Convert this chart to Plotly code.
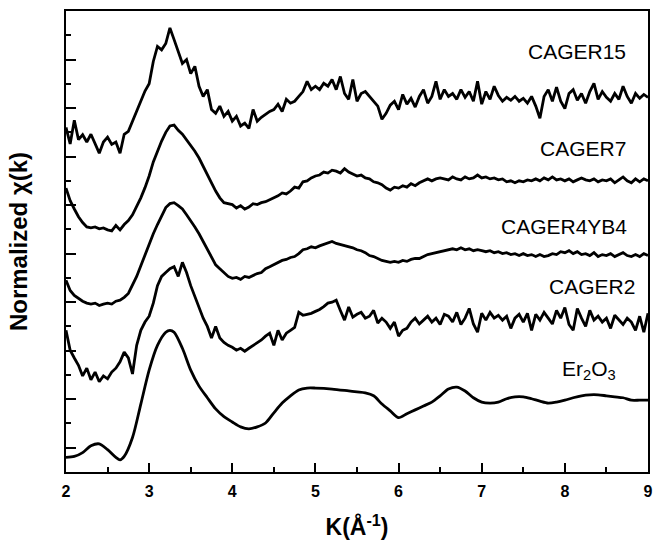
import numpy as np
import plotly.graph_objects as go

# Sampling grid for the measured spectra (k in 1/Å)
k = np.round(np.arange(2.0, 9.0001, 0.05), 2)

cager15 = [
    6.60, 6.26, 6.75, 6.35, 6.45, 6.30, 6.46, 6.25, 6.07, 6.30,
    6.40, 6.25, 6.30, 6.07, 6.46, 6.52, 6.73, 6.95, 7.14, 7.35,
    7.50, 7.96, 8.27, 8.20, 8.33, 8.65, 8.41, 8.16, 7.92, 8.00,
    7.71, 7.86, 7.45, 7.24, 7.38, 6.97, 6.89, 7.04, 6.83, 6.93,
    6.73, 6.83, 6.63, 6.69, 6.58, 6.97, 6.73, 6.81, 6.87, 6.93,
    6.97, 7.08, 6.93, 7.18, 7.10, 7.14, 7.24, 7.34, 7.55, 7.38,
    7.45, 7.38, 7.51, 7.45, 7.59, 7.38, 7.65, 7.30, 7.18, 7.59,
    7.14, 7.30, 7.34, 7.24, 7.14, 7.04, 6.77, 6.89, 7.06, 7.14,
    6.97, 7.28, 7.08, 7.20, 7.02, 7.24, 7.38, 7.10, 7.24, 7.55,
    7.18, 7.38, 7.24, 7.30, 7.18, 7.38, 7.22, 7.34, 7.14, 7.55,
    7.08, 7.34, 7.18, 7.45, 7.26, 7.14, 7.22, 7.16, 7.24, 7.14,
    7.20, 7.10, 7.24, 7.04, 6.79, 7.24, 7.38, 7.14, 7.43, 7.14,
    6.99, 7.30, 7.38, 7.16, 7.30, 7.10, 7.34, 7.51, 7.18, 7.34,
    7.22, 7.14, 7.30, 7.18, 7.45, 7.24, 7.10, 7.30, 7.20, 7.28,
    7.22,
]

cager7 = [
    5.35, 5.09, 4.92, 4.76, 4.64, 4.55, 4.53, 4.55, 4.51, 4.53,
    4.49, 4.47, 4.58, 4.49, 4.60, 4.68, 4.80, 4.97, 5.15, 5.36,
    5.60, 5.89, 6.11, 6.32, 6.50, 6.63, 6.65, 6.54, 6.46, 6.34,
    6.24, 6.11, 5.97, 5.79, 5.62, 5.46, 5.29, 5.15, 5.05, 5.03,
    5.01, 4.94, 4.99, 4.92, 4.96, 5.03, 5.01, 5.05, 5.07, 5.11,
    5.15, 5.19, 5.25, 5.23, 5.29, 5.37, 5.35, 5.48, 5.50, 5.56,
    5.60, 5.62, 5.68, 5.66, 5.72, 5.70, 5.66, 5.75, 5.68, 5.64,
    5.60, 5.62, 5.56, 5.54, 5.48, 5.46, 5.42, 5.35, 5.31, 5.37,
    5.35, 5.40, 5.37, 5.44, 5.40, 5.46, 5.50, 5.54, 5.50, 5.54,
    5.56, 5.54, 5.52, 5.58, 5.54, 5.52, 5.58, 5.54, 5.56, 5.62,
    5.56, 5.58, 5.54, 5.56, 5.52, 5.54, 5.48, 5.50, 5.46, 5.50,
    5.48, 5.52, 5.50, 5.54, 5.50, 5.56, 5.52, 5.58, 5.52, 5.54,
    5.50, 5.54, 5.48, 5.52, 5.56, 5.52, 5.50, 5.54, 5.48, 5.52,
    5.50, 5.54, 5.46, 5.52, 5.58, 5.50, 5.46, 5.54, 5.48, 5.54,
    5.50,
]

cager4yb4 = [
    3.45, 3.24, 3.14, 3.08, 3.02, 2.98, 2.96, 2.98, 2.93, 2.96,
    2.98, 2.96, 3.02, 3.04, 3.10, 3.18, 3.34, 3.53, 3.75, 3.98,
    4.21, 4.41, 4.60, 4.78, 4.95, 5.03, 5.05, 4.99, 4.92, 4.80,
    4.68, 4.55, 4.41, 4.25, 4.08, 3.92, 3.77, 3.69, 3.61, 3.53,
    3.49, 3.51, 3.47, 3.53, 3.51, 3.55, 3.59, 3.61, 3.69, 3.73,
    3.77, 3.82, 3.86, 3.88, 3.92, 3.94, 4.00, 4.08, 4.10, 4.14,
    4.12, 4.16, 4.19, 4.23, 4.25, 4.21, 4.19, 4.16, 4.14, 4.12,
    4.08, 4.06, 4.02, 3.96, 3.94, 3.90, 3.86, 3.84, 3.82, 3.84,
    3.82, 3.86, 3.84, 3.88, 3.90, 3.90, 3.94, 3.98, 4.00, 4.02,
    4.04, 4.06, 4.08, 4.10, 4.08, 4.12, 4.08, 4.10, 4.06, 4.08,
    4.06, 4.04, 4.06, 4.02, 4.04, 4.00, 4.02, 3.98, 4.00, 3.96,
    4.00, 3.96, 3.98, 3.94, 3.98, 3.94, 3.96, 4.00, 3.98, 4.04,
    4.02, 4.06, 4.00, 4.04, 3.98, 4.00, 3.96, 4.02, 3.94, 3.98,
    3.96, 4.00, 3.94, 3.98, 4.02, 3.96, 3.94, 3.98, 3.94, 4.00,
    3.96,
]

cager2 = [
    2.42, 2.01, 1.85, 1.70, 1.48, 1.64, 1.40, 1.56, 1.36, 1.48,
    1.42, 1.56, 1.64, 1.77, 1.97, 1.85, 1.52, 2.11, 2.42, 2.59,
    2.71, 2.98, 3.34, 3.53, 3.61, 3.69, 3.73, 3.53, 3.82, 3.61,
    3.34, 3.12, 2.91, 2.67, 2.50, 2.26, 2.50, 2.26, 2.17, 2.11,
    2.07, 2.01, 2.05, 1.99, 2.05, 2.11, 2.17, 2.22, 2.30, 2.36,
    2.11, 2.42, 2.22, 2.36, 2.42, 2.48, 2.79, 2.73, 2.75, 2.77,
    2.81, 2.85, 2.91, 2.98, 3.00, 3.04, 2.83, 2.63, 2.90, 2.69,
    2.75, 2.79, 2.67, 2.71, 2.83, 2.57, 2.67, 2.59, 2.46, 2.59,
    2.30, 2.42, 2.46, 2.59, 2.67, 2.55, 2.63, 2.71, 2.59, 2.67,
    2.54, 2.75, 2.71, 2.59, 2.79, 2.54, 2.67, 2.87, 2.55, 2.38,
    2.77, 2.63, 2.79, 2.67, 2.73, 2.63, 2.71, 2.46, 2.67, 2.75,
    2.59, 2.77, 2.42, 2.75, 2.63, 2.79, 2.67, 2.55, 2.83, 2.67,
    2.89, 2.54, 2.42, 2.87, 2.67, 2.50, 2.83, 2.63, 2.71, 2.59,
    2.67, 2.46, 2.73, 2.63, 2.54, 2.67, 2.59, 2.42, 2.71, 2.38,
    2.77,
]

# Er2O3 reference (smooth curve)
k_er2o3 = [2.0, 2.1, 2.2, 2.3, 2.4, 2.5, 2.6, 2.65, 2.7, 2.8, 2.9, 3.0, 3.1,
           3.2, 3.25, 3.3, 3.4, 3.5, 3.6, 3.7, 3.8, 3.9, 4.0, 4.1, 4.2, 4.3,
           4.4, 4.5, 4.6, 4.7, 4.8, 4.9, 5.0, 5.2, 5.4, 5.5, 5.6, 5.7, 5.8,
           5.9, 6.0, 6.1, 6.2, 6.3, 6.4, 6.5, 6.6, 6.7, 6.8, 6.9, 7.0, 7.1,
           7.2, 7.3, 7.4, 7.5, 7.6, 7.7, 7.8, 7.9, 8.0, 8.1, 8.2, 8.3, 8.4,
           8.5, 8.6, 8.7, 8.8, 8.9, 9.0]
er2o3 = [-0.20, -0.18, -0.10, 0.04, 0.08, -0.04, -0.20, -0.25, -0.18, 0.21,
         0.90, 1.60, 2.11, 2.38, 2.42, 2.38, 2.05, 1.60, 1.27, 1.03, 0.80,
         0.64, 0.53, 0.43, 0.39, 0.43, 0.51, 0.72, 0.92, 1.07, 1.19, 1.23,
         1.23, 1.21, 1.17, 1.15, 1.13, 1.07, 0.90, 0.76, 0.62, 0.70, 0.78,
         0.86, 0.94, 1.07, 1.21, 1.25, 1.17, 1.03, 0.94, 0.92, 0.94, 1.01,
         1.05, 1.05, 1.01, 0.96, 0.92, 0.94, 0.98, 1.03, 1.07, 1.09, 1.09,
         1.07, 1.05, 1.03, 0.98, 0.98, 0.98]

labels = ["CAGER15", "CAGER7", "CAGER4YB4", "CAGER2", "Er<sub>2</sub>O<sub>3</sub>"]
label_x = [8.76, 8.76, 8.77, 8.87, 8.64]
label_y = [8.16, 6.17, 4.55, 3.32, 1.60]

for arr in (cager15, cager7, cager4yb4, cager2):
    assert len(arr) == len(k), len(arr)

fig = go.Figure()
line = dict(color="black", width=2.8)
for ys in (cager15, cager7, cager4yb4, cager2):
    fig.add_trace(go.Scatter(x=k, y=ys, mode="lines", line=line,
                             showlegend=False, hoverinfo="skip"))
fig.add_trace(go.Scatter(x=k_er2o3, y=er2o3, mode="lines",
                         line=dict(color="black", width=2.8, shape="spline",
                                   smoothing=0.8),
                         showlegend=False, hoverinfo="skip"))

for t, lx, ly in zip(labels, label_x, label_y):
    fig.add_annotation(x=lx, y=ly, text=t, showarrow=False, xanchor="right",
                       yanchor="middle",
                       font=dict(family="Liberation Sans, Arial", size=21,
                                 color="black"))

font_main = "Liberation Sans, Arial, sans-serif"
fig.update_layout(
    width=662, height=545,
    margin=dict(l=66, r=14, t=9, b=73),
    plot_bgcolor="white", paper_bgcolor="white",
    font=dict(family=font_main, color="black"),
)
fig.update_xaxes(
    range=[2, 9], tick0=2, dtick=1, ticks="inside", ticklen=9, tickwidth=1.5,
    tickcolor="black", showline=True, linewidth=2, linecolor="black",
    mirror=True, showgrid=False, zeroline=False, ticklabelstandoff=4,
    tickfont=dict(family=font_main, size=16, color="black", weight="bold"),
    minor=dict(dtick=0.5, ticks="inside", ticklen=5, tickwidth=1.5,
               tickcolor="black", showgrid=False),
    title=dict(text="K(Å<sup>-1</sup>)", standoff=20,
               font=dict(family=font_main, size=23, weight="bold")),
)
fig.update_yaxes(
    range=[-0.5, 9.0], tick0=0, dtick=1, ticks="inside", ticklen=10,
    tickwidth=1.5, tickcolor="black", showline=True, linewidth=2,
    linecolor="black", mirror=True, showgrid=False, zeroline=False,
    showticklabels=False,
    minor=dict(dtick=0.5, ticks="inside", ticklen=5, tickwidth=1.5,
               tickcolor="black", showgrid=False),
    title=dict(text="Normalized χ(k)", standoff=30,
               font=dict(family=font_main, size=24, weight="bold")),
)

fig.write_html("out.html")
